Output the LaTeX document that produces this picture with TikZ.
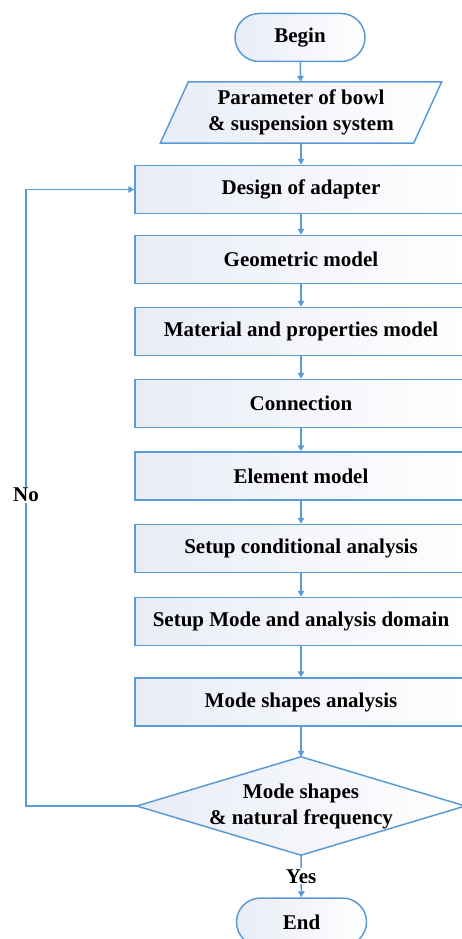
\documentclass[tikz,border=0pt]{standalone}
\usepackage{fontspec}
\setmainfont{Liberation Serif}
\usetikzlibrary{arrows.meta,calc,backgrounds}
\definecolor{lineblue}{HTML}{5B9BD5}
\definecolor{boxfill}{HTML}{E8ECF6}
\begin{document}
\begin{tikzpicture}[x=1pt,y=-1pt,
  every node/.style={font=\fontsize{21}{26}\selectfont\bfseries, text=black},
  proc/.style={draw=lineblue, line width=1.5pt, left color=boxfill, right color=white, minimum width=332pt, minimum height=48pt, inner sep=0pt},
  term/.style={draw=lineblue, line width=1.5pt, left color=boxfill, right color=white, rounded corners=24pt, minimum width=130pt, minimum height=48pt, inner sep=0pt},
  shapefill/.style={draw=lineblue, line width=1.5pt, left color=boxfill, right color=white},
  arr/.style={draw=lineblue, line width=1.5pt, -{Triangle[width=6.5pt,length=6pt]}},
  lbl/.style={fill=white, inner sep=1pt}]
\useasboundingbox (0,0) rectangle (461,939);

\node[term] (begin) at (300,37.5) {Begin};
\node[minimum width=253pt, minimum height=61pt, inner sep=0pt, align=center] (param) at (301,112.5) {Parameter of bowl\\\& suspension system};
\begin{scope}[on background layer]
  \path[shapefill] ($(param.north west)+(14,0)$) -- ($(param.north east)+(14,0)$) -- ($(param.south east)+(-14,0)$) -- ($(param.south west)+(-14,0)$) -- cycle;
\end{scope}
\node[proc] (design) at (301,189.5) {Design of adapter};
\node[proc] (geom) at (301,259.5) {Geometric model};
\node[proc] (mat) at (301,331.5) {Material and properties model};
\node[proc] (conn) at (301,403.5) {Connection};
\node[proc] (elem) at (301,476) {Element model};
\node[proc] (setc) at (301,548.5) {Setup conditional analysis};
\node[proc] (setm) at (301,621.5) {Setup Mode and analysis domain};
\node[proc] (modes) at (301,702) {Mode shapes analysis};
\node[minimum width=328pt, minimum height=98pt, inner sep=0pt, align=center] (dec) at (301,806) {Mode shapes\\\& natural frequency};
\begin{scope}[on background layer]
  \path[shapefill] (dec.west) -- (dec.north) -- (dec.east) -- (dec.south) -- cycle;
\end{scope}
\node[term] (end) at (301.5,922) {End};

\draw[arr] (begin) -- (param);
\draw[arr] (param.south -| design.north) -- (design);
\draw[arr] (design) -- (geom);
\draw[arr] (geom) -- (mat);
\draw[arr] (mat) -- (conn);
\draw[arr] (conn) -- (elem);
\draw[arr] (elem) -- (setc);
\draw[arr] (setc) -- (setm);
\draw[arr] (setm) -- (modes);
\draw[arr] (modes) -- (dec.north);
\draw[arr] (dec.south) -- node[lbl] (yes) {Yes} (end);
\coordinate (loopx) at (26,0);
\draw[arr] (dec.west) -- (dec.west -| loopx) |- (design.west);
\node[lbl] (no) at (26,495) {No};
\end{tikzpicture}
\end{document}
